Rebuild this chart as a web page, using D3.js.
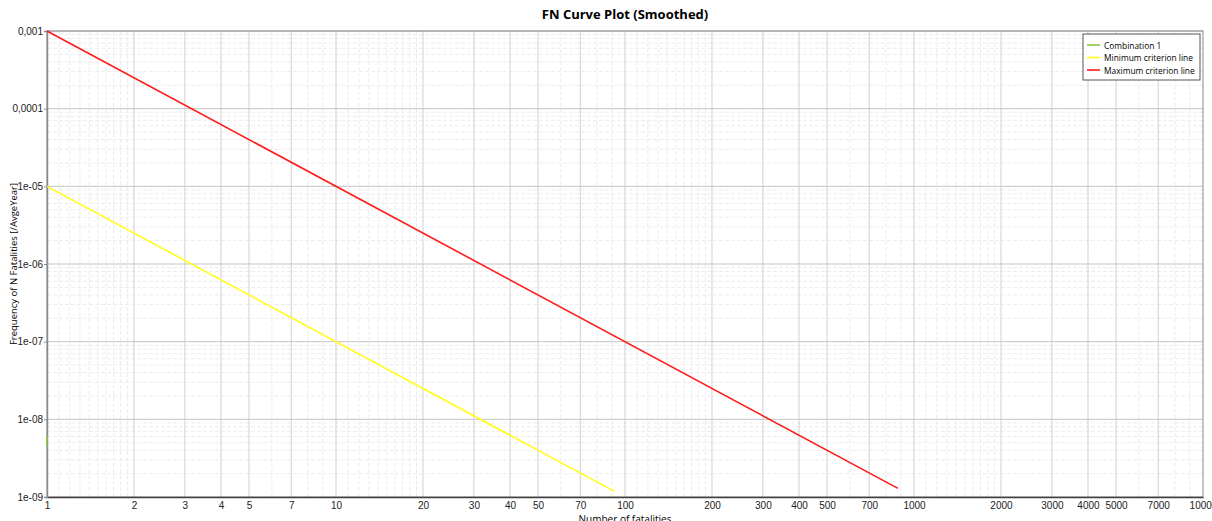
<!DOCTYPE html>
<html>
<head>
<meta charset="utf-8">
<script src="https://cdn.jsdelivr.net/npm/d3@7"></script>
<style>
  body { margin: 0; background: #fff; font-family: "Open Sans", "Noto Sans", sans-serif; }
  .tick text { font-size: 10px; fill: #222; }
</style>
</head>
<body>
<div class="fn"></div>
<script>
const W = 1212, H = 521;
const margin = {top: 31, right: 9, bottom: 24, left: 47};

// series (N, frequency)
const comboN = [1, 1];
const comboF = [6e-9, 4.5e-9];
const minN = [1, 92];
const minF = [1e-5, 1.18e-9];
const maxN = [1, 880];
const maxF = [1e-3, 1.29e-9];

const xTickValues = [1, 2, 3, 4, 5, 7, 10, 20, 30, 40, 50, 70, 100, 200, 300, 400, 500, 700,
                     1000, 2000, 3000, 4000, 5000, 7000, 10000];
const yTickValues = [1e-3, 1e-4, 1e-5, 1e-6, 1e-7, 1e-8, 1e-9];
const yTickLabels = ['0,001', '0,0001', '1e-05', '1e-06', '1e-07', '1e-08', '1e-09'];
const legendNames = ['Combination 1', 'Minimum criterion line', 'Maximum criterion line'];
const legendColors = ['#8cc63f', '#ffff1a', '#ff1a1a'];

const svg = d3.select('.fn').append('svg').attr('width', W).attr('height', H);
const iw = W - margin.left - margin.right, ih = H - margin.top - margin.bottom;

const x = d3.scaleLog().domain([1, 10000]).range([margin.left, margin.left + iw]);
const y = d3.scaleLog().domain([1e-9, 1e-3]).range([margin.top + ih, margin.top]);

// grid lines
const grid = svg.append('g');
const decadesX = [1, 10, 100, 1000];
let xMinor = [], xMajor = [];
decadesX.forEach(d => {
  [2, 3, 4, 5, 7].forEach(k => xMajor.push(k * d));
  [6, 8, 9].forEach(k => xMinor.push(k * d));
  d3.range(11, 20).forEach(k => xMinor.push(k * d / 10));
  if (d > 1) xMajor.push(d);
});
let yMinor = [];
[1e-9, 1e-8, 1e-7, 1e-6, 1e-5, 1e-4].forEach(d => {
  d3.range(2, 10).forEach(k => yMinor.push(k * d));
});

grid.selectAll('.xminor').data(xMinor).join('line')
  .attr('x1', d => x(d)).attr('x2', d => x(d))
  .attr('y1', margin.top).attr('y2', margin.top + ih)
  .style('stroke', '#ececec').style('stroke-dasharray', '4,2');
grid.selectAll('.yminor').data(yMinor).join('line')
  .attr('x1', margin.left).attr('x2', margin.left + iw)
  .attr('y1', d => y(d)).attr('y2', d => y(d))
  .style('stroke', '#ececec').style('stroke-dasharray', '4,2');
grid.selectAll('.xmajor').data(xMajor).join('line')
  .attr('x1', d => x(d)).attr('x2', d => x(d))
  .attr('y1', margin.top).attr('y2', margin.top + ih)
  .style('stroke', '#d0d0d0');
grid.selectAll('.ymajor').data(yTickValues.slice(0, -1)).join('line')
  .attr('x1', margin.left).attr('x2', margin.left + iw)
  .attr('y1', d => y(d)).attr('y2', d => y(d))
  .style('stroke', '#c4c4c4');

// frame
svg.append('rect')
  .attr('x', margin.left).attr('y', margin.top)
  .attr('width', iw).attr('height', ih)
  .style('fill', 'none').style('stroke', '#8a8a8a');

// axes
const xAxis = d3.axisBottom(x).tickValues(xTickValues).tickFormat(d3.format('d')).tickSize(0).tickPadding(5);
const yAxis = d3.axisLeft(y).tickValues(yTickValues).tickFormat((d, i) => yTickLabels[i]).tickSize(3).tickPadding(1);

svg.append('g').attr('transform', `translate(0,${margin.top + ih})`).call(xAxis)
  .call(g => g.select('.domain').style('stroke', '#404040').style('stroke-width', 1.5));
svg.append('g').attr('transform', `translate(${margin.left},0)`).call(yAxis)
  .call(g => g.select('.domain').style('stroke', '#8a8a8a').style('stroke-width', 1.5))
  .call(g => g.selectAll('.tick line').style('stroke', '#8a8a8a'));

// series
const line = d3.line().x(d => x(d[0])).y(d => y(d[1]));
const series = [
  {pts: d3.zip(comboN, comboF), color: legendColors[0]},
  {pts: d3.zip(minN, minF), color: legendColors[1]},
  {pts: d3.zip(maxN, maxF), color: legendColors[2]}
];
svg.append('g').selectAll('path').data(series).join('path')
  .attr('d', d => line(d.pts))
  .style('fill', 'none').style('stroke', d => d.color).style('stroke-width', 1.6);

// titles
svg.append('text').attr('x', 625).attr('y', 19).attr('text-anchor', 'middle')
  .style('font-size', '13px').style('font-weight', 'bold').text('FN Curve Plot (Smoothed)');
svg.append('text').attr('x', 625).attr('y', 523).attr('text-anchor', 'middle')
  .style('font-size', '10px').text('Number of fatalities');
svg.append('text').attr('transform', `translate(17,${margin.top + ih / 2}) rotate(-90)`)
  .attr('text-anchor', 'middle').style('font-size', '9.5px')
  .text('Frequency of N Fatalities [/AvgeYear]');

// legend
const lg = svg.append('g').attr('transform', 'translate(1083,34)');
lg.append('rect').attr('width', 117).attr('height', 46)
  .style('fill', '#fff').style('stroke', '#555');
legendNames.forEach((name, i) => {
  lg.append('line').attr('x1', 4).attr('x2', 17).attr('y1', 11 + i * 12.5).attr('y2', 11 + i * 12.5)
    .style('stroke', legendColors[i]).style('stroke-width', 1.6);
  lg.append('text').attr('x', 21).attr('y', 14.5 + i * 12.5)
    .style('font-size', '8.4px').text(name);
});
</script>
</body>
</html>
